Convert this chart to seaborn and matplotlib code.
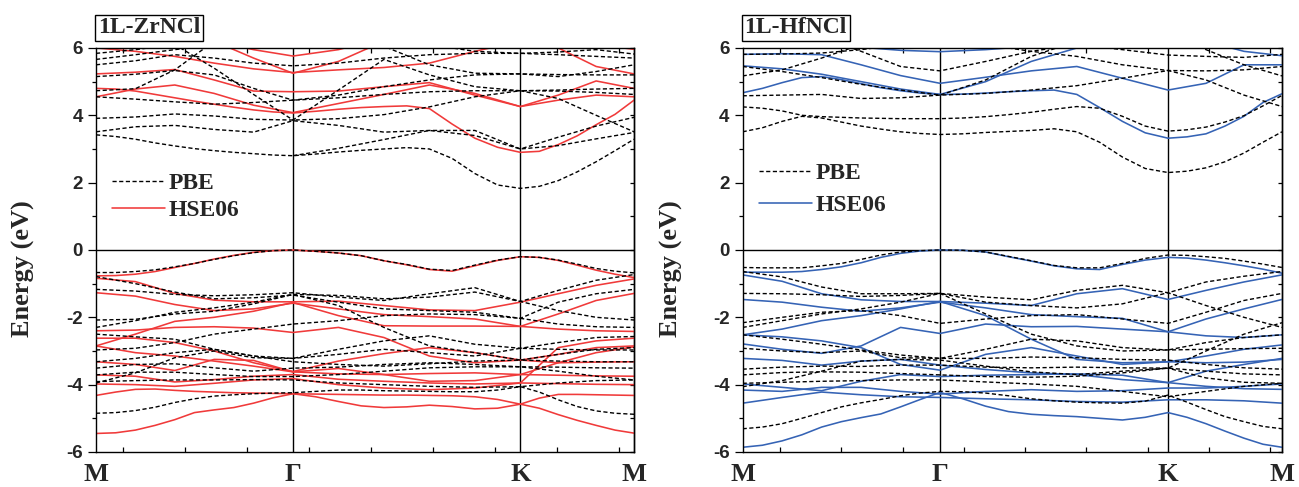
import numpy as np
import pandas as pd
import matplotlib
matplotlib.use("Agg")
import matplotlib.pyplot as plt
from matplotlib.lines import Line2D
from matplotlib.ticker import MultipleLocator
import seaborn as sns

# ---------------------------------------------------------------
# k-path M - Gamma - K - M (segment lengths in units of |b|)
# ---------------------------------------------------------------
path_labels = ["M", "Γ", "K", "M"]
seg_lengths = [0.5, 1 / np.sqrt(3), 0.5 / np.sqrt(3)]


def make_path(steps):
    pts, start = [0.0], 0.0
    for L, n in zip(seg_lengths, steps):
        pts += [start + L * i / n for i in range(1, n + 1)]
        start += L
    return np.array(pts)


k_coarse = make_path([5, 5, 3])      # 14 points
k_fine = make_path([10, 10, 6])      # 27 points
k_nodes = np.concatenate([[0.0], np.cumsum(seg_lengths)])
NA = np.nan

# ---------------------------------------------------------------
# 1L-ZrNCl band energies (eV)
# ---------------------------------------------------------------
zr_pbe_coarse = [
    [3.51, 3.66, 3.70, 3.58, 3.50, 3.84, 3.70, 3.50, 3.55, 3.55, 3.00, 3.35, 3.68, 3.94],
    [NA, NA, NA, NA, NA, 2.80, 3.02, 3.28, 3.55, 3.40, 3.00, 3.10, 3.30, 3.49],
    [3.91, 3.95, 4.04, 3.98, 3.88, 3.86, 3.90, 4.02, 4.25, 4.55, 4.73, 4.50, 4.00, 3.51],
    [4.55, 4.48, 4.40, 4.33, 4.38, 4.45, 4.52, 4.62, 4.70, 4.73, 4.73, 4.72, 4.68, 4.62],
    [4.73, 4.79, 5.35, 6.20, 6.60, 6.80, 6.70, 6.50, 6.40, 6.30, 6.25, 6.25, 6.30, 6.35],
    [6.60, 6.40, 6.10, 5.40, 4.62, 3.86, 4.75, 5.66, 5.20, 4.85, 4.73, 4.75, 4.78, 4.80],
    [5.15, 5.22, 5.33, 5.20, 4.80, 4.45, 4.60, 4.85, 5.05, 5.20, 5.23, 5.21, 5.20, 5.20],
    [5.50, 5.62, 5.80, 5.70, 5.55, 5.47, 5.55, 5.70, 5.80, 5.84, 5.84, 5.80, 5.75, 5.70],
    [5.66, 5.80, 5.95, 6.10, 6.30, 6.40, 6.30, 6.05, 5.50, 5.25, 5.23, 5.15, 5.30, 5.50],
    [5.84, 5.95, 6.10, 6.30, 6.40, 6.45, 6.40, 6.30, 6.10, 5.90, 5.84, 5.88, 5.95, 5.82],
    [-1.17, -1.22, -1.32, -1.36, -1.33, -1.27, -1.40, -1.50, -1.30, -1.12, -1.53, -1.80, -2.00, -2.08],
    [-0.79, -1.00, -1.25, -1.45, -1.42, -1.34, -1.55, -1.75, -1.80, -1.85, -2.03, -1.55, -1.30, -1.17],
    [-2.08, -2.06, -1.90, -1.82, -1.60, -1.32, -1.65, -2.30, -2.85, -3.05, -3.27, -3.30, -3.32, -3.32],
    [-2.30, -2.10, -1.85, -1.72, -1.55, -1.32, -1.35, -1.45, -1.40, -1.25, -1.53, -1.20, -0.90, -0.73],
    [-2.97, -2.92, -2.75, -2.50, -2.35, -2.20, -2.10, -1.95, -1.90, -1.92, -2.03, -2.20, -2.28, -2.30],
    [-2.50, -2.58, -2.65, -2.95, -3.15, -3.22, -2.95, -2.70, -2.55, -2.80, -2.92, -2.75, -2.60, -2.57],
    [-3.95, -3.65, -3.20, -3.00, -3.20, -3.22, -3.10, -2.95, -3.05, -3.15, -2.92, -2.95, -2.97, -2.97],
    [-3.32, -3.22, -3.05, -2.95, -3.15, -3.32, -3.40, -3.45, -3.38, -3.30, -3.27, -3.10, -2.95, -2.90],
    [-3.51, -3.40, -3.38, -3.50, -3.60, -3.51, -3.48, -3.40, -3.35, -3.40, -3.47, -3.48, -3.50, -3.51],
    [-3.71, -3.63, -3.63, -3.70, -3.76, -3.76, -3.70, -3.60, -3.50, -3.47, -3.47, -3.60, -3.75, -3.86],
    [-3.91, -3.88, -3.86, -3.86, -3.85, -3.86, -3.95, -4.00, -4.05, -4.08, -4.06, -3.95, -3.88, -3.86],
]
zr_pbe_fine = [
    [3.42, 3.37, 3.29, 3.18, 3.09, 3.01, 2.95, 2.90, 2.86, 2.82, 2.80, 2.85, 2.91, 2.96,
     3.00, 3.04, 3.00, 2.72, 2.27, 1.93, 1.83, 1.89, 2.06, 2.32, 2.62, 2.95, 3.29],
    [-0.67, -0.67, -0.64, -0.59, -0.50, -0.40, -0.28, -0.17, -0.08, -0.02, 0.00, -0.04, -0.09, -0.17,
     -0.32, -0.43, -0.57, -0.61, -0.45, -0.30, -0.20, -0.22, -0.30, -0.42, -0.55, -0.63, -0.68],
    [-4.85, -4.83, -4.77, -4.67, -4.53, -4.42, -4.34, -4.30, -4.27, -4.25, -4.24, -4.20, -4.16, -4.16,
     -4.18, -4.19, -4.20, -4.21, -4.21, -4.16, -4.06, -4.22, -4.45, -4.65, -4.78, -4.85, -4.88],
]

zr_hse_coarse = [
    [4.55, 4.78, 4.90, 4.65, 4.30, 4.08, 4.35, 4.62, 4.90, 4.65, 4.26, 4.60, 5.02, 4.80],
    [5.23, 5.28, 5.36, 5.05, 4.72, 4.70, 4.72, 4.85, 4.97, 4.60, 4.26, 4.45, 4.60, 4.55],
    [6.00, 5.90, 5.75, 5.55, 5.38, 5.27, 5.35, 5.42, 5.55, 5.90, 6.20, 6.00, 5.45, 5.23],
    [6.60, 6.50, 6.40, 6.20, 5.95, 5.76, 5.95, 6.30, 6.50, 6.60, 6.60, 6.40, 6.10, 5.96],
    [6.80, 6.70, 6.50, 6.20, 5.70, 5.25, 5.60, 6.20, 6.60, 6.80, 6.90, 6.80, 6.50, 6.30],
    [-0.84, -0.94, -1.29, -1.49, -1.54, -1.54, -1.52, -1.65, -1.78, -1.80, -1.55, -1.30, -1.05, -0.86],
    [-1.27, -1.37, -1.62, -1.80, -1.75, -1.58, -1.75, -1.92, -1.98, -2.05, -2.27, -1.90, -1.50, -1.29],
    [-2.85, -2.50, -2.12, -2.00, -1.82, -1.56, -1.95, -2.25, -2.26, -2.26, -2.27, -2.35, -2.40, -2.42],
    [-2.40, -2.38, -2.30, -2.28, -2.32, -2.45, -2.30, -2.60, -3.15, -3.35, -3.27, -3.35, -3.33, -3.32],
    [-2.62, -2.62, -2.75, -3.00, -3.35, -3.61, -3.30, -3.08, -2.90, -3.05, -3.27, -3.10, -2.90, -2.85],
    [-2.85, -3.05, -3.15, -3.30, -3.45, -3.62, -3.52, -3.70, -3.90, -3.88, -3.70, -3.35, -3.05, -2.88],
    [-3.32, -3.40, -3.58, -3.25, -3.28, -3.62, -3.68, -3.70, -3.67, -3.65, -3.70, -3.72, -3.74, -3.75],
    [-3.71, -3.75, -3.92, -3.85, -3.75, -3.70, -3.84, -3.90, -3.95, -3.98, -3.95, -3.97, -3.99, -4.00],
    [-3.98, -4.00, -4.05, -3.96, -3.86, -3.82, -4.00, -4.10, -4.15, -4.10, -3.95, -2.90, -2.70, -2.62],
]
zr_hse_fine = [
    [4.80, 4.78, 4.72, 4.62, 4.52, 4.42, 4.33, 4.24, 4.16, 4.10, 4.07, 4.12, 4.18, 4.23,
     4.26, 4.28, 4.20, 3.74, 3.32, 3.05, 2.90, 2.93, 3.13, 3.39, 3.72, 4.03, 4.45],
    [-0.77, -0.76, -0.72, -0.64, -0.52, -0.40, -0.27, -0.16, -0.07, -0.02, 0.00, -0.04, -0.09, -0.17,
     -0.32, -0.44, -0.58, -0.63, -0.47, -0.31, -0.20, -0.22, -0.31, -0.45, -0.60, -0.72, -0.82],
    [-4.32, -4.22, -4.14, -4.13, -4.17, -4.20, -4.22, -4.24, -4.25, -4.26, -4.27, -4.28, -4.29, -4.30,
     -4.31, -4.31, -4.32, -4.33, -4.36, -4.44, -4.58, -4.40, -4.29, -4.29, -4.30, -4.31, -4.32],
    [-5.45, -5.43, -5.35, -5.21, -5.04, -4.83, -4.75, -4.68, -4.55, -4.39, -4.27, -4.36, -4.50, -4.63,
     -4.68, -4.66, -4.61, -4.65, -4.72, -4.70, -4.58, -4.70, -4.89, -5.06, -5.21, -5.35, -5.44],
]

# ---------------------------------------------------------------
# 1L-HfNCl band energies (eV)
# ---------------------------------------------------------------
hf_pbe_coarse = [
    [4.58, 4.60, 4.62, 4.50, 4.52, 4.60, 4.65, 4.75, 4.88, 5.10, 5.33, 5.05, 4.60, 4.26],
    [5.17, 5.35, 5.70, 6.10, 6.40, 6.60, 6.60, 6.50, 6.40, 6.30, 6.20, 6.20, 6.30, 6.40],
    [6.60, 6.50, 6.30, 5.90, 5.45, 5.32, 5.60, 5.90, 6.10, 5.95, 5.79, 5.75, 5.72, 5.81],
    [5.45, 5.30, 5.12, 4.92, 4.75, 4.60, 5.05, 5.75, 6.20, 6.40, 6.50, 5.95, 5.50, 5.17],
    [5.81, 5.82, 5.85, 5.95, 6.10, 6.20, 6.10, 5.90, 5.75, 5.50, 5.33, 5.32, 5.35, 5.45],
    [-0.64, -0.80, -1.10, -1.30, -1.30, -1.29, -1.40, -1.48, -1.20, -1.05, -1.27, -0.95, -0.78, -0.64],
    [-1.29, -1.30, -1.33, -1.38, -1.35, -1.29, -1.55, -1.65, -1.72, -1.60, -1.27, -1.65, -2.00, -2.30],
    [-2.16, -2.00, -1.85, -1.80, -1.95, -2.18, -2.05, -1.95, -1.92, -2.05, -2.18, -1.85, -1.50, -1.29],
    [-2.30, -2.10, -1.90, -1.75, -1.55, -1.29, -1.90, -2.50, -2.85, -3.00, -2.97, -2.75, -2.60, -2.52],
    [-2.52, -2.65, -2.80, -2.97, -3.12, -3.22, -2.95, -2.65, -2.70, -2.90, -2.97, -2.95, -2.93, -2.92],
    [-2.92, -3.00, -3.05, -3.00, -3.20, -3.22, -3.22, -3.18, -3.20, -3.25, -3.27, -3.40, -3.50, -3.54],
    [-3.54, -3.48, -3.45, -3.46, -3.42, -3.42, -3.48, -3.50, -3.48, -3.50, -3.51, -3.60, -3.68, -3.71],
    [-3.71, -3.64, -3.62, -3.63, -3.67, -3.71, -3.76, -3.78, -3.75, -3.65, -3.51, -3.00, -2.50, -2.16],
    [-4.06, -3.88, -3.60, -3.30, -3.25, -3.27, -3.45, -3.62, -3.70, -3.60, -3.51, -3.80, -3.93, -3.96],
    [-3.96, -3.93, -3.90, -3.88, -3.86, -3.86, -3.92, -3.98, -4.05, -4.20, -4.36, -4.20, -4.05, -3.96],
]
hf_pbe_fine = [
    [3.51, 3.63, 3.82, 3.97, 3.92, 3.80, 3.68, 3.59, 3.51, 3.46, 3.43, 3.45, 3.49, 3.52,
     3.55, 3.60, 3.51, 3.20, 2.76, 2.42, 2.30, 2.34, 2.44, 2.62, 2.88, 3.20, 3.51],
    [4.25, 4.21, 4.13, 4.00, 3.96, 3.94, 3.92, 3.91, 3.90, 3.90, 3.90, 3.92, 3.96, 4.02,
     4.09, 4.18, 4.26, 4.21, 3.97, 3.68, 3.53, 3.57, 3.65, 3.80, 3.99, 4.28, 4.59],
    [-0.52, -0.53, -0.53, -0.53, -0.47, -0.40, -0.28, -0.15, -0.06, -0.02, 0.00, -0.01, -0.06, -0.19,
     -0.32, -0.46, -0.53, -0.53, -0.40, -0.25, -0.15, -0.16, -0.20, -0.25, -0.33, -0.42, -0.52],
    [-5.31, -5.26, -5.16, -5.00, -4.83, -4.66, -4.54, -4.44, -4.33, -4.25, -4.20, -4.21, -4.25, -4.33,
     -4.42, -4.48, -4.52, -4.54, -4.55, -4.49, -4.31, -4.52, -4.74, -4.95, -5.10, -5.24, -5.31],
]

hf_hse_coarse = [
    [5.47, 5.38, 5.22, 5.00, 4.78, 4.62, 5.00, 5.60, 6.00, 6.20, 6.30, 6.20, 5.90, 5.77],
    [5.81, 5.83, 5.80, 5.50, 5.18, 4.95, 5.13, 5.32, 5.45, 5.10, 4.75, 4.95, 5.50, 5.50],
    [6.30, 6.20, 6.10, 6.02, 5.93, 5.89, 5.95, 6.05, 6.10, 6.20, 6.20, 6.20, 6.20, 6.30],
    [-0.74, -0.93, -1.30, -1.48, -1.53, -1.53, -1.58, -1.65, -1.30, -1.15, -1.47, -1.20, -0.95, -0.74],
    [-1.47, -1.55, -1.70, -1.82, -1.72, -1.55, -1.72, -1.92, -1.98, -2.03, -2.43, -2.05, -1.75, -1.47],
    [-2.52, -2.35, -2.10, -1.95, -1.75, -1.53, -1.95, -2.65, -3.25, -3.35, -3.32, -3.35, -3.33, -3.25],
    [-2.79, -2.95, -3.07, -2.85, -2.30, -2.48, -2.20, -2.28, -2.27, -2.35, -2.43, -2.55, -2.60, -2.52],
    [-2.52, -2.58, -2.70, -2.90, -3.40, -3.57, -3.10, -2.90, -3.15, -3.40, -3.32, -3.15, -2.95, -2.82],
    [-3.22, -3.28, -3.42, -3.30, -3.25, -3.42, -3.55, -3.65, -3.70, -3.85, -3.94, -4.05, -4.12, -4.14],
    [-3.98, -4.08, -4.18, -3.90, -3.70, -3.76, -3.72, -3.70, -3.68, -3.72, -3.94, -3.60, -3.40, -3.22],
    [-4.16, -4.20, -4.08, -4.08, -4.20, -4.28, -4.20, -4.15, -4.20, -4.18, -4.10, -4.10, -4.05, -3.98],
    [-4.55, -4.38, -4.22, -4.30, -4.36, -4.38, -4.42, -4.45, -4.50, -4.52, -4.45, -4.45, -4.48, -4.55],
]
hf_hse_fine = [
    [4.67, 4.80, 4.97, 5.12, 5.15, 5.06, 4.94, 4.82, 4.73, 4.66, 4.62, 4.63, 4.66, 4.70,
     4.73, 4.75, 4.62, 4.23, 3.82, 3.48, 3.32, 3.36, 3.45, 3.68, 3.97, 4.38, 4.64],
    [-0.66, -0.66, -0.66, -0.64, -0.58, -0.50, -0.38, -0.22, -0.10, -0.03, 0.00, -0.01, -0.06, -0.20,
     -0.33, -0.47, -0.56, -0.58, -0.43, -0.30, -0.22, -0.24, -0.30, -0.38, -0.47, -0.57, -0.69],
    [-5.86, -5.80, -5.67, -5.49, -5.26, -5.10, -4.98, -4.87, -4.66, -4.44, -4.23, -4.42, -4.64, -4.80,
     -4.88, -4.92, -4.95, -5.00, -5.05, -4.97, -4.83, -4.97, -5.16, -5.38, -5.59, -5.77, -5.86],
]

materials = ["1L-ZrNCl", "1L-HfNCl"]
y_ticks = [-6, -4, -2, 0, 2, 4, 6]


def long_form(bands, grid, tag):
    rows = []
    for b, energies in enumerate(bands):
        for kk, e in zip(grid, energies):
            if not np.isnan(e):
                rows.append((f"{tag}{b}", kk, e))
    return pd.DataFrame(rows, columns=["band", "k", "E"])


def method_frame(coarse, fine):
    return pd.concat([long_form(coarse, k_coarse, "c"), long_form(fine, k_fine, "f")],
                     ignore_index=True)


sns.set_theme(style="ticks")
plt.rcParams["font.family"] = ["Liberation Sans", "DejaVu Sans"]
SERIF = ["Liberation Serif", "DejaVu Serif"]
PBE_DASH = (0, (3, 1.8))

fig = plt.figure(figsize=(12.99, 4.87), dpi=100)
axes = [
    fig.add_axes([0.0739, 0.0719, 0.4142, 0.8296]),
    fig.add_axes([0.5717, 0.0719, 0.4152, 0.8296]),
]

panels = [
    dict(pbe=(zr_pbe_coarse, zr_pbe_fine), hse=(zr_hse_coarse, zr_hse_fine),
         color="#f03a3a", title=materials[0], ylab_x=-0.113,
         minor0=0.0686, minor_step=0.1574, leg_y=0.632, leg_sp=0.22),
    dict(pbe=(hf_pbe_coarse, hf_pbe_fine), hse=(hf_hse_coarse, hf_hse_fine),
         color="#3563b5", title=materials[1], ylab_x=-0.111,
         minor0=0.0945, minor_step=0.1552, leg_y=0.650, leg_sp=0.45),
]

for ax, p in zip(axes, panels):
    df_hse = method_frame(*p["hse"])
    df_pbe = method_frame(*p["pbe"])

    sns.lineplot(data=df_hse, x="k", y="E", units="band", estimator=None,
                 sort=False, color=p["color"], lw=1.15, ax=ax, legend=False)
    sns.lineplot(data=df_pbe, x="k", y="E", units="band", estimator=None,
                 sort=False, color="black", lw=1.0, linestyle=PBE_DASH,
                 ax=ax, legend=False)

    ax.axhline(0, color="black", lw=1.0, zorder=1)
    for kn in k_nodes[1:-1]:
        ax.axvline(kn, color="black", lw=1.0, zorder=1)

    ax.set_xlim(0, k_nodes[-1])
    ax.set_ylim(-6, 6)
    ax.set_xlabel("")
    ax.set_ylabel("Energy (eV)", fontsize=19, fontweight="bold", family=SERIF)
    ax.yaxis.set_label_coords(p["ylab_x"], 0.454)

    for s in ax.spines.values():
        s.set_color("black")
        s.set_linewidth(1.0)

    # x axis: symmetry-point labels, inward minor ticks on top and bottom
    ax.set_xticks(k_nodes)
    ax.set_xticklabels(path_labels, fontsize=19, fontweight="bold", family=SERIF)
    ax.set_xticks([p["minor0"] + p["minor_step"] * i for i in range(9)], minor=True)
    ax.tick_params(axis="x", which="major", length=0, pad=8)
    ax.tick_params(axis="x", which="minor", direction="in", length=3.5,
                   width=0.9, top=True, bottom=True, color="black")

    # y axis: outward ticks on the left, inward ticks on the right
    ax.set_yticks(y_ticks)
    ax.set_yticklabels([str(t) for t in y_ticks], fontsize=13.5, fontweight="bold")
    ax.yaxis.set_minor_locator(MultipleLocator(1))
    ax.tick_params(axis="y", which="major", direction="out", length=5.5, width=0.9,
                   pad=4, color="black", right=False)
    ax.tick_params(axis="y", which="minor", direction="out", length=2.8, width=0.9,
                   color="black", right=False)
    sec = ax.secondary_yaxis("right")
    sec.set_yticks(y_ticks)
    sec.yaxis.set_minor_locator(MultipleLocator(1))
    sec.tick_params(axis="y", which="both", direction="in", length=3, width=0.9,
                    labelright=False, color="black")
    sec.spines["right"].set_linewidth(1.0)
    sec.spines["right"].set_color("black")

    ax.text(0.0985, 1.0495, p["title"], transform=ax.transAxes, ha="center",
            va="center", fontsize=17, fontweight="bold", family=SERIF,
            bbox=dict(boxstyle="square,pad=0.12", fc="white", ec="black", lw=1.0))

    handles = [
        Line2D([], [], color="black", lw=1.0, linestyle=PBE_DASH),
        Line2D([], [], color=p["color"], lw=1.15),
    ]
    ax.legend(handles, ["PBE", "HSE06"], loc="center left",
              bbox_to_anchor=(0.03, p["leg_y"]), frameon=False,
              prop=dict(family=SERIF, weight="bold", size=17),
              handlelength=2.25, handletextpad=0.15,
              labelspacing=p["leg_sp"], borderpad=0, borderaxespad=0)

fig.savefig("out.png", dpi=100, facecolor="white")
